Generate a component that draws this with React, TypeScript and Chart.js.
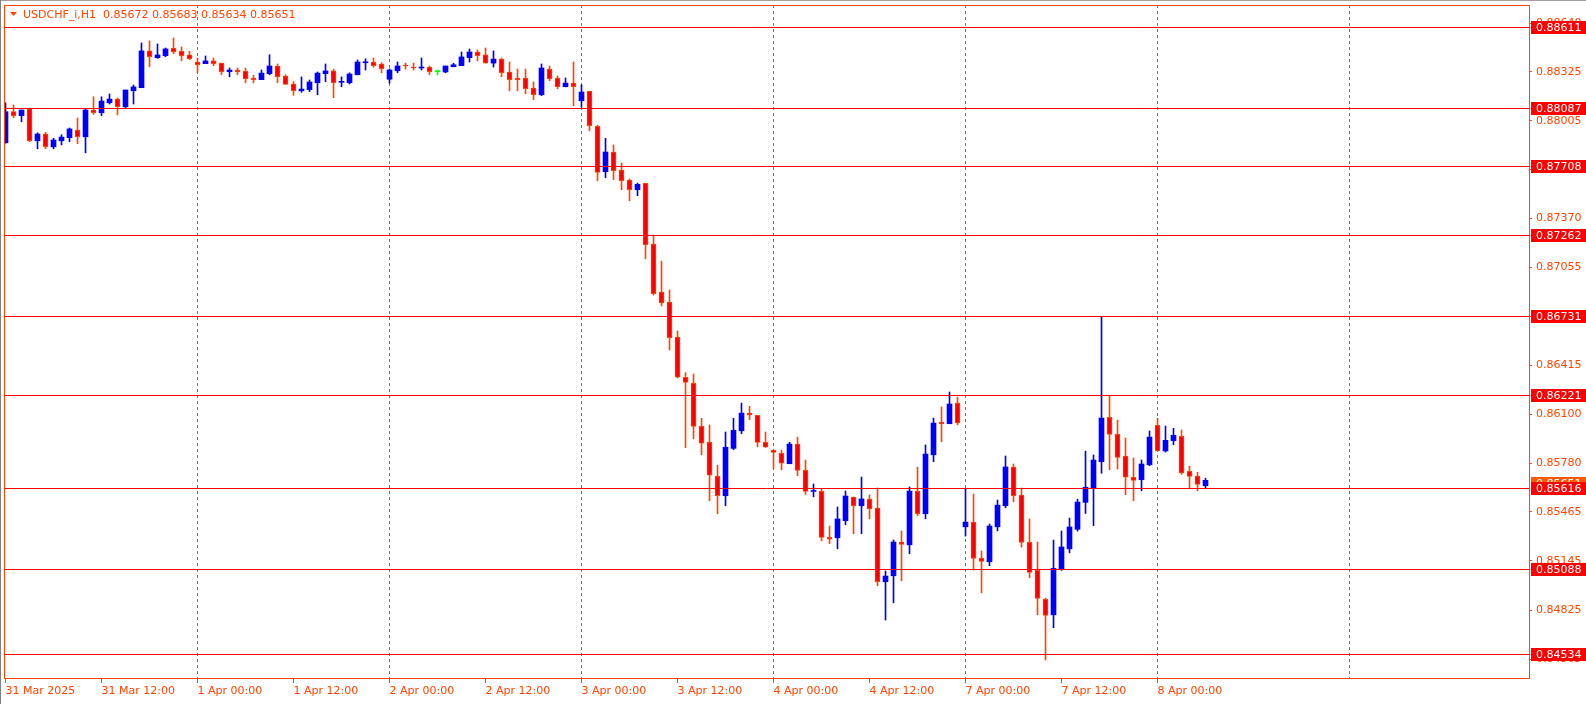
import React, { useEffect, useRef } from 'react';
import { Chart, registerables } from 'chart.js';

Chart.register(...registerables);

// ---- Data (USDCHF_i, H1, bar 0 = 31 Mar 2025 00:00) ----
const opens = [
  0.87863, 0.88065, 0.88039, 0.88084, 0.87876, 0.87920, 0.87837, 0.87876, 0.87896, 0.87946,
  0.87902, 0.88076, 0.88058, 0.88123, 0.88147, 0.88097, 0.88201, 0.88221, 0.88460, 0.88416,
  0.88429, 0.88477, 0.88458, 0.88434, 0.88388, 0.88377, 0.88395, 0.88381, 0.88325, 0.88336,
  0.88327, 0.88284, 0.88273, 0.88312, 0.88362, 0.88297, 0.88245, 0.88201, 0.88208, 0.88253,
  0.88312, 0.88330, 0.88256, 0.88253, 0.88305, 0.88383, 0.88388, 0.88375, 0.88276, 0.88331,
  0.88368, 0.88355, 0.88349, 0.88355, 0.88325, 0.88323, 0.88357, 0.88364, 0.88416, 0.88453,
  0.88434, 0.88381, 0.88407, 0.88323, 0.88284, 0.88284, 0.88219, 0.88175, 0.88342, 0.88284,
  0.88227, 0.88251, 0.88136, 0.88198, 0.87970, 0.87675, 0.87803, 0.87686, 0.87621, 0.87558,
  0.87600, 0.87205, 0.86893, 0.86828, 0.86600, 0.86339, 0.86300, 0.86020, 0.85916, 0.85695,
  0.85569, 0.85877, 0.85991, 0.86106, 0.86092, 0.85916, 0.85866, 0.85845, 0.85777, 0.85905,
  0.85734, 0.85597, 0.85597, 0.85300, 0.85296, 0.85407, 0.85561, 0.85504, 0.85548, 0.85489,
  0.85010, 0.85049, 0.85268, 0.85250, 0.85599, 0.85452, 0.85835, 0.86048, 0.86037, 0.86171,
  0.85367, 0.85398, 0.85162, 0.85140, 0.85367, 0.85504, 0.85756, 0.85574, 0.85266, 0.85084,
  0.84895, 0.84795, 0.85094, 0.85224, 0.85351, 0.85526, 0.85621, 0.85790, 0.86079, 0.85968,
  0.85827, 0.85689, 0.85673, 0.85770, 0.86027, 0.85860, 0.85927, 0.85955, 0.85727, 0.85697,
  0.85634,
];
const highs = [
  0.88123, 0.88109, 0.88076, 0.88088, 0.87928, 0.87931, 0.87892, 0.87915, 0.87959, 0.88024,
  0.88081, 0.88162, 0.88162, 0.88180, 0.88154, 0.88206, 0.88238, 0.88512, 0.88525, 0.88505,
  0.88479, 0.88544, 0.88486, 0.88458, 0.88414, 0.88427, 0.88414, 0.88381, 0.88349, 0.88349,
  0.88349, 0.88302, 0.88336, 0.88435, 0.88375, 0.88305, 0.88260, 0.88291, 0.88271, 0.88323,
  0.88375, 0.88341, 0.88291, 0.88318, 0.88401, 0.88409, 0.88414, 0.88383, 0.88343, 0.88388,
  0.88381, 0.88381, 0.88414, 0.88362, 0.88336, 0.88362, 0.88380, 0.88453, 0.88473, 0.88466,
  0.88479, 0.88460, 0.88414, 0.88388, 0.88342, 0.88342, 0.88258, 0.88375, 0.88362, 0.88297,
  0.88284, 0.88388, 0.88240, 0.88198, 0.87977, 0.87892, 0.87849, 0.87732, 0.87628, 0.87601,
  0.87600, 0.87264, 0.87094, 0.86906, 0.86640, 0.86369, 0.86360, 0.86072, 0.86029, 0.85767,
  0.85983, 0.86072, 0.86171, 0.86150, 0.86092, 0.85983, 0.85866, 0.85866, 0.85916, 0.85950,
  0.85801, 0.85645, 0.85617, 0.85372, 0.85496, 0.85600, 0.85561, 0.85690, 0.85574, 0.85619,
  0.85080, 0.85281, 0.85340, 0.85626, 0.85755, 0.85899, 0.86074, 0.86146, 0.86243, 0.86210,
  0.85611, 0.85580, 0.85210, 0.85385, 0.85541, 0.85827, 0.85775, 0.85619, 0.85418, 0.85268,
  0.84904, 0.85281, 0.85340, 0.85424, 0.85546, 0.85859, 0.85834, 0.86729, 0.86219, 0.86061,
  0.85944, 0.85814, 0.85801, 0.85990, 0.86072, 0.86022, 0.86007, 0.85996, 0.85762, 0.85721,
  0.85683,
];
const lows = [
  0.87860, 0.88026, 0.88000, 0.87870, 0.87824, 0.87824, 0.87824, 0.87849, 0.87870, 0.87857,
  0.87798, 0.88048, 0.88039, 0.88115, 0.88045, 0.88091, 0.88115, 0.88221, 0.88357, 0.88412,
  0.88422, 0.88442, 0.88396, 0.88403, 0.88318, 0.88377, 0.88364, 0.88305, 0.88292, 0.88305,
  0.88253, 0.88253, 0.88273, 0.88305, 0.88253, 0.88243, 0.88172, 0.88191, 0.88195, 0.88175,
  0.88260, 0.88156, 0.88227, 0.88245, 0.88305, 0.88336, 0.88354, 0.88318, 0.88250, 0.88318,
  0.88342, 0.88336, 0.88336, 0.88305, 0.88305, 0.88318, 0.88357, 0.88364, 0.88388, 0.88395,
  0.88381, 0.88355, 0.88292, 0.88201, 0.88201, 0.88182, 0.88143, 0.88169, 0.88266, 0.88214,
  0.88227, 0.88104, 0.88094, 0.87941, 0.87616, 0.87636, 0.87623, 0.87558, 0.87486, 0.87519,
  0.87109, 0.86873, 0.86802, 0.86516, 0.86334, 0.85881, 0.85939, 0.85835, 0.85536, 0.85452,
  0.85504, 0.85868, 0.85972, 0.86063, 0.85887, 0.85884, 0.85744, 0.85738, 0.85777, 0.85699,
  0.85578, 0.85562, 0.85276, 0.85257, 0.85224, 0.85380, 0.85322, 0.85322, 0.85419, 0.84984,
  0.84761, 0.84873, 0.85016, 0.85192, 0.85439, 0.85419, 0.85790, 0.85920, 0.86037, 0.86030,
  0.85307, 0.85086, 0.84938, 0.85114, 0.85341, 0.85491, 0.85530, 0.85235, 0.85036, 0.84795,
  0.84501, 0.84711, 0.85084, 0.85198, 0.85339, 0.85454, 0.85374, 0.85715, 0.85738, 0.85742,
  0.85575, 0.85536, 0.85601, 0.85764, 0.85861, 0.85853, 0.85900, 0.85708, 0.85614, 0.85601,
  0.85614,
];
const closes = [
  0.88065, 0.88039, 0.88076, 0.87876, 0.87920, 0.87837, 0.87881, 0.87900, 0.87953, 0.87902,
  0.88076, 0.88058, 0.88134, 0.88147, 0.88097, 0.88206, 0.88226, 0.88460, 0.88422, 0.88434,
  0.88473, 0.88455, 0.88429, 0.88409, 0.88370, 0.88395, 0.88377, 0.88325, 0.88336, 0.88325,
  0.88279, 0.88273, 0.88316, 0.88362, 0.88292, 0.88243, 0.88201, 0.88212, 0.88258, 0.88316,
  0.88330, 0.88253, 0.88258, 0.88310, 0.88388, 0.88388, 0.88364, 0.88344, 0.88336, 0.88362,
  0.88362, 0.88349, 0.88355, 0.88325, 0.88325, 0.88362, 0.88370, 0.88421, 0.88453, 0.88429,
  0.88381, 0.88407, 0.88318, 0.88273, 0.88273, 0.88214, 0.88175, 0.88349, 0.88279, 0.88227,
  0.88251, 0.88227, 0.88193, 0.87974, 0.87671, 0.87803, 0.87681, 0.87616, 0.87558, 0.87593,
  0.87200, 0.86882, 0.86823, 0.86596, 0.86339, 0.86306, 0.86020, 0.85910, 0.85702, 0.85569,
  0.85884, 0.85994, 0.86106, 0.86092, 0.85916, 0.85884, 0.85851, 0.85780, 0.85905, 0.85734,
  0.85597, 0.85601, 0.85298, 0.85287, 0.85418, 0.85567, 0.85504, 0.85548, 0.85485, 0.85010,
  0.85047, 0.85268, 0.85253, 0.85599, 0.85452, 0.85840, 0.86041, 0.86037, 0.86165, 0.86043,
  0.85398, 0.85162, 0.85142, 0.85372, 0.85508, 0.85756, 0.85569, 0.85266, 0.85071, 0.84902,
  0.84791, 0.85097, 0.85236, 0.85366, 0.85528, 0.85624, 0.85801, 0.86074, 0.85968, 0.85818,
  0.85689, 0.85669, 0.85775, 0.85950, 0.85861, 0.85929, 0.85962, 0.85718, 0.85695, 0.85643,
  0.85669,
];

// Horizontal level lines drawn on the chart
const levels = [0.88611, 0.88087, 0.87708, 0.87262, 0.86731, 0.86221, 0.85616, 0.85088, 0.84534];
// Price-axis tick values
const yTicks = [0.8864, 0.88325, 0.88005, 0.8769, 0.8737, 0.87055, 0.86735, 0.86415, 0.861, 0.8578, 0.85465, 0.85145, 0.84825, 0.84505];
// Time-axis ticks (bar index) and their labels
const xTickBars = [0, 12, 24, 36, 48, 60, 72, 84, 96, 108, 120, 132, 144, 168];
const xTickLabels = [
  '31 Mar 2025', '31 Mar 12:00', '1 Apr 00:00', '1 Apr 12:00', '2 Apr 00:00', '2 Apr 12:00',
  '3 Apr 00:00', '3 Apr 12:00', '4 Apr 00:00', '4 Apr 12:00', '7 Apr 00:00', '7 Apr 12:00',
  '8 Apr 00:00', '',
];
const symbolLabel = 'USDCHF_i,H1';
const lastQuote = ['0.85672', '0.85683', '0.85634', '0.85651'];
const currentPrice = 0.85651;

const ORANGE = '#FF4500';
const BULL = '#0000FF';
const BEAR_FILL = '#FF0000';
const DOJI = '#00FF00';
const FONT = '"DejaVu Sans", Verdana, sans-serif';

const levelLinesPlugin = {
  id: 'levelLines',
  afterDatasetsDraw(chart: any) {
    const { ctx, chartArea: a, scales } = chart;
    const ys = scales.y;
    ctx.save();
    ctx.strokeStyle = '#FF0000';
    ctx.lineWidth = 1;
    levels.forEach((v) => {
      const row = Math.floor(ys.getPixelForValue(v)) + 0.5;
      ctx.beginPath();
      ctx.moveTo(a.left, row);
      ctx.lineTo(a.right, row);
      ctx.stroke();
    });
    ctx.restore();
  },
};

const overlayPlugin = {
  id: 'mtOverlay',
  afterDraw(chart: any) {
    const { ctx, chartArea: a, scales, width } = chart;
    const ys = scales.y;
    ctx.save();
    // window frame lines
    ctx.fillStyle = '#a0a0a0';
    ctx.fillRect(0, 0, width, 1);
    ctx.fillStyle = '#808080';
    ctx.fillRect(0, 0, 1, chart.height);
    // plot frame
    ctx.strokeStyle = ORANGE;
    ctx.lineWidth = 1;
    ctx.strokeRect(a.left + 0.5, a.top + 0.5, a.right - a.left, a.bottom - a.top);

    ctx.font = '11px ' + FONT;
    ctx.textBaseline = 'middle';
    ctx.textAlign = 'left';
    const boxX = a.right + 2;
    // current price box
    const cp = Math.floor(ys.getPixelForValue(currentPrice));
    ctx.fillStyle = '#FF5A00';
    ctx.fillRect(boxX, cp - 6, width - boxX, 13);
    ctx.fillStyle = '#ffffff';
    ctx.fillText(currentPrice.toFixed(5), a.right + 7, cp + 1);
    // level boxes
    levels.forEach((v) => {
      const row = Math.floor(ys.getPixelForValue(v));
      ctx.fillStyle = BEAR_FILL;
      ctx.fillRect(boxX, row - 6, width - boxX, 13);
      ctx.fillStyle = '#ffffff';
      ctx.fillText(v.toFixed(5), a.right + 7, row + 1);
    });

    // title
    ctx.fillStyle = ORANGE;
    ctx.beginPath();
    ctx.moveTo(10, 12);
    ctx.lineTo(17, 12);
    ctx.lineTo(13.5, 16);
    ctx.closePath();
    ctx.fill();
    ctx.fillText(symbolLabel, 23, 15.5);
    ctx.fillText(lastQuote.join(' '), 103, 15.5);
    ctx.restore();
  },
};

export default function App() {
  const ref = useRef<HTMLCanvasElement | null>(null);

  useEffect(() => {
    if (!ref.current) return;
    const idx = opens.map((_, i) => i);
    const colorOf = (i: number) =>
      closes[i] > opens[i] ? BULL : closes[i] < opens[i] ? BEAR_FILL : DOJI;
    const wickColorOf = (i: number) =>
      closes[i] > opens[i] ? BULL : closes[i] < opens[i] ? ORANGE : DOJI;

    const bodies = idx.map((i) => ({ x: i, y: [opens[i], closes[i]] }));
    const wicks = idx.map((i) => ({ x: i, y: [lows[i], highs[i]] }));

    const chart = new Chart(ref.current, {
      type: 'bar',
      data: {
        datasets: [
          {
            type: 'bar',
            data: bodies as any,
            backgroundColor: idx.map(colorOf),
            borderColor: idx.map(wickColorOf),
            borderWidth: idx.map((i) => (closes[i] < opens[i] ? 1 : 0)),
            borderSkipped: false,
            barThickness: 5,
            minBarLength: 1,
            grouped: false,
            order: 0,
          } as any,
          {
            type: 'bar',
            data: wicks as any,
            backgroundColor: idx.map(wickColorOf),
            borderWidth: 0,
            barThickness: 1,
            grouped: false,
            order: 1,
          } as any,
        ],
      },
      options: {
        animation: false,
        responsive: false,
        maintainAspectRatio: false,
        events: [],
        layout: { padding: { left: 4, top: 5, right: 0, bottom: 0 }, autoPadding: false } as any,
        plugins: { legend: { display: false }, tooltip: { enabled: false }, title: { display: false } },
        scales: {
          x: {
            type: 'linear',
            min: -0.1875,
            max: -0.1875 + 1525 / 8,
            offset: false,
            afterFit: (s: any) => {
              s.height = 26;
              s.paddingLeft = 0; s.paddingRight = 0; s.paddingTop = 0; s.paddingBottom = 0;
            },
            afterBuildTicks: (s: any) => { s.ticks = xTickBars.map((v) => ({ value: v })); },
            grid: {
              offset: false,
              drawOnChartArea: true,
              drawTicks: true,
              tickLength: 5,
              lineWidth: 1,
              color: (c: any) =>
                c.tick && c.tick.value > 0 && c.tick.value % 24 === 0 ? ORANGE : 'rgba(0,0,0,0)',
              tickColor: (c: any) =>
                c.tick && c.tick.value <= opens.length ? ORANGE : 'rgba(0,0,0,0)',
            },
            border: { display: false, dash: [3, 3] },
            ticks: {
              autoSkip: false,
              maxRotation: 0,
              minRotation: 0,
              align: 'start',
              padding: 2,
              color: ORANGE,
              font: { family: FONT, size: 11 },
              callback: (v: any) => {
                const k = xTickBars.indexOf(Number(v));
                return k >= 0 ? xTickLabels[k] : '';
              },
            },
          } as any,
          y: {
            type: 'linear',
            position: 'right',
            min: 0.843844,
            max: 0.887585,
            afterFit: (s: any) => {
              s.width = 57;
              s.paddingLeft = 0; s.paddingRight = 0; s.paddingTop = 0; s.paddingBottom = 0;
            },
            afterBuildTicks: (s: any) => { s.ticks = yTicks.map((v) => ({ value: v })); },
            grid: { drawOnChartArea: false, drawTicks: true, tickLength: 3, color: ORANGE, tickColor: ORANGE },
            border: { display: false },
            ticks: {
              autoSkip: false,
              padding: 4,
              color: ORANGE,
              font: { family: FONT, size: 11 },
              callback: (v: any) => Number(v).toFixed(5),
            },
          } as any,
        },
      },
      plugins: [levelLinesPlugin, overlayPlugin],
    });
    return () => chart.destroy();
  }, []);

  return (
    <div style={{ position: 'fixed', left: 0, top: 0, width: 1586, height: 704, background: '#ffffff' }}>
      <canvas ref={ref} width={1586} height={704} style={{ display: 'block', width: 1586, height: 704 }} />
    </div>
  );
}
